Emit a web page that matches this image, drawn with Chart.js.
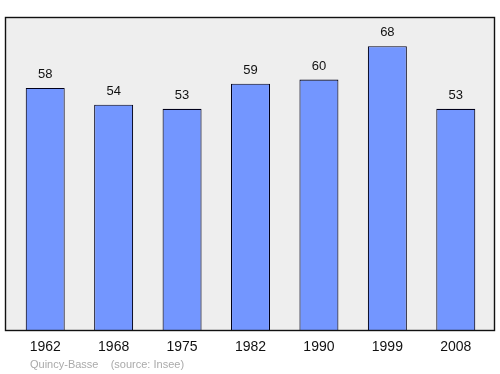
<!DOCTYPE html>
<html>
<head>
<meta charset="utf-8">
<script src="https://cdn.jsdelivr.net/npm/chart.js@4"></script>
<style>
  html, body { margin: 0; padding: 0; background: #fff; }
  #wrap { width: 500px; height: 374px; }
</style>
</head>
<body>
<div id="wrap"><canvas id="c" width="500" height="374"></canvas></div>
<script>
const years = ['1962', '1968', '1975', '1982', '1990', '1999', '2008'];
const population = [58, 54, 53, 59, 60, 68, 53];
const sourceText = 'Quincy-Basse    (source: Insee)';

const font = 'Liberation Sans, Arial, sans-serif';

// background, frame, value labels and year labels
const decorations = {
  id: 'decorations',
  beforeDraw(chart) {
    const { ctx, chartArea: a } = chart;
    ctx.save();
    ctx.fillStyle = '#eeeeee';
    ctx.fillRect(5, a.top, 490, a.bottom - a.top);
    ctx.restore();
  },
  afterDraw(chart) {
    const { ctx, chartArea: a } = chart;
    const x = chart.scales.x;
    const meta = chart.getDatasetMeta(0);
    ctx.save();
    ctx.strokeStyle = '#111';
    ctx.lineWidth = 1.4;
    ctx.strokeRect(5.5, a.top + 0.5, 489, a.bottom - a.top);

    ctx.fillStyle = '#111';
    ctx.textAlign = 'center';
    ctx.font = '13px ' + font;
    ctx.textBaseline = 'alphabetic';
    meta.data.forEach((bar, i) => {
      ctx.fillText(String(population[i]), bar.x, bar.y - 10);
    });

    ctx.font = '14px ' + font;
    ctx.textBaseline = 'middle';
    years.forEach((y, i) => {
      ctx.fillText(y, x.getPixelForValue(i), 347);
    });

    ctx.font = '11px ' + font;
    ctx.fillStyle = '#aaaaaa';
    ctx.textAlign = 'left';
    ctx.fillText(sourceText, 30, 365);
    ctx.restore();
  }
};

new Chart(document.getElementById('c'), {
  type: 'bar',
  data: {
    labels: years,
    datasets: [{
      data: population,
      backgroundColor: '#7396ff',
      borderColor: '#00001a',
      borderWidth: 1.1,
      barPercentage: 0.57,
      categoryPercentage: 1
    }]
  },
  options: {
    responsive: false,
    animation: false,
    layout: { padding: { left: 11, right: 10, top: 17, bottom: 44 } },
    plugins: { legend: { display: false }, tooltip: { enabled: false } },
    scales: {
      x: { display: false },
      y: { display: false, min: 0, max: 75 }
    }
  },
  plugins: [decorations]
});
</script>
</body>
</html>
